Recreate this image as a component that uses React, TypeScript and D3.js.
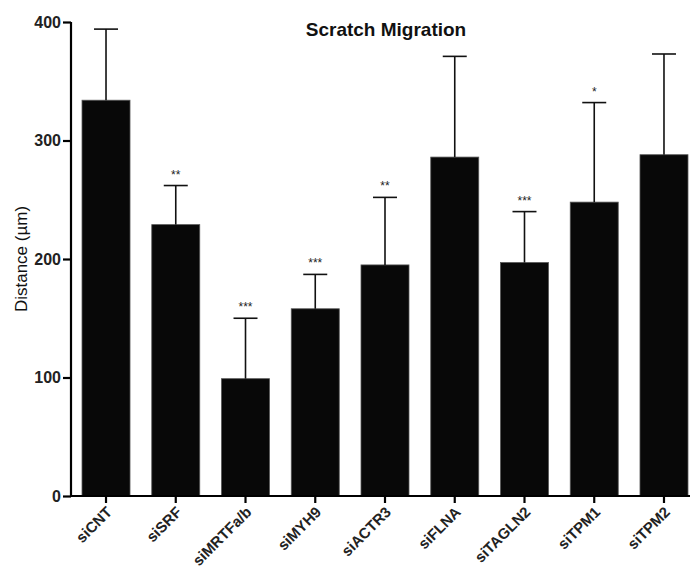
import React, { useRef, useEffect } from 'react';
import * as d3 from 'd3';

const categories = ['siCNT', 'siSRF', 'siMRTFa/b', 'siMYH9', 'siACTR3', 'siFLNA', 'siTAGLN2', 'siTPM1', 'siTPM2'];
const means = [334, 229, 99, 158, 195, 286, 197, 248, 288];
const upperErr = [394, 262, 150, 187, 252, 371, 240, 332, 373];
const stars = ['', '**', '***', '***', '**', '', '***', '*', ''];
const yTicks = [0, 100, 200, 300, 400];

const W = 691;
const H = 572;
const FONT = 'Liberation Sans, Arial, Helvetica, sans-serif';

const App = () => {
  const ref = useRef<SVGSVGElement>(null);

  useEffect(() => {
    const svg = d3.select(ref.current);
    svg.selectAll('*').remove();

    const axisX = 71;
    const y = d3.scaleLinear().domain([0, 400]).range([496, 22]);
    const x = d3.scaleBand<string>()
      .domain(categories)
      .range([axisX, 699])
      .paddingInner(0.312)
      .paddingOuter(0.158);

    // bars
    svg.append('g')
      .selectAll('rect')
      .data(categories)
      .join('rect')
      .attr('x', d => x(d)!)
      .attr('y', (d, i) => y(means[i]))
      .attr('width', x.bandwidth())
      .attr('height', (d, i) => y(0) - y(means[i]))
      .attr('fill', '#080808')
      .attr('stroke', '#555')
      .attr('stroke-width', 0.8);

    // error bars (upper only)
    const capW = x.bandwidth() / 2;
    const err = svg.append('g').attr('stroke', '#111').attr('stroke-width', 1.6);
    categories.forEach((c, i) => {
      const cx = x(c)! + x.bandwidth() / 2;
      err.append('line')
        .attr('x1', cx).attr('x2', cx)
        .attr('y1', y(means[i])).attr('y2', y(upperErr[i]));
      err.append('line')
        .attr('x1', cx - capW / 2).attr('x2', cx + capW / 2)
        .attr('y1', y(upperErr[i])).attr('y2', y(upperErr[i]));
      if (stars[i]) {
        svg.append('text')
          .attr('x', cx)
          .attr('y', y(upperErr[i]) - 7)
          .attr('text-anchor', 'middle')
          .style('font-family', FONT)
          .style('font-size', '12px')
          .attr('fill', '#222')
          .text(stars[i]);
      }
    });

    // y axis
    const yAxis = svg.append('g')
      .attr('transform', `translate(${axisX},0)`)
      .call(d3.axisLeft(y).tickValues(yTicks).tickSize(8).tickPadding(2).tickFormat(d3.format('d')));
    yAxis.select('.domain').attr('stroke', '#000').attr('stroke-width', 2.2).attr('d', `M0,${y(400)}V${y(0)}`);
    yAxis.selectAll('.tick line').attr('stroke', '#000').attr('stroke-width', 2.2);
    yAxis.selectAll('.tick text')
      .style('font-family', FONT)
      .style('font-size', '16px')
      .style('font-weight', 'bold')
      .attr('fill', '#222');

    // x axis (ticks only; labels drawn separately)
    const xAxis = svg.append('g')
      .attr('transform', `translate(0,${y(0)})`)
      .call(d3.axisBottom(x).tickSize(7).tickSizeOuter(0).tickFormat(() => ''));
    xAxis.select('.domain').attr('stroke', '#000').attr('stroke-width', 2.2).attr('d', `M${axisX - 1},0H690`);
    xAxis.selectAll('.tick line').attr('stroke', '#000').attr('stroke-width', 2.2);

    svg.append('g')
      .selectAll('text')
      .data(categories)
      .join('text')
      .attr('x', 0)
      .attr('y', 0)
      .style('transform', d => `translate(${x(d)! + x.bandwidth() / 2 + 7}px, ${y(0) + 17}px) rotate(-45deg)`)
      .attr('text-anchor', 'end')
      .style('font-family', FONT)
      .style('font-size', '15px')
      .style('font-weight', 'bold')
      .attr('fill', '#222')
      .text(d => d);

    // y label
    svg.append('text')
      .attr('transform', `translate(27,${(y(0) + y(400)) / 2}) rotate(-90)`)
      .attr('text-anchor', 'middle')
      .style('font-family', FONT)
      .style('font-size', '17px')
      .attr('fill', '#111')
      .text('Distance (µm)');

    // title
    svg.append('text')
      .attr('x', 386)
      .attr('y', 36)
      .attr('text-anchor', 'middle')
      .style('font-family', FONT)
      .style('font-size', '19px')
      .style('font-weight', 'bold')
      .attr('fill', '#111')
      .text('Scratch Migration');
  }, []);

  return (
    <svg ref={ref} width={W} height={H} style={{ position: 'absolute', left: 0, top: 0, background: '#fff' }} />
  );
};

export default App;
